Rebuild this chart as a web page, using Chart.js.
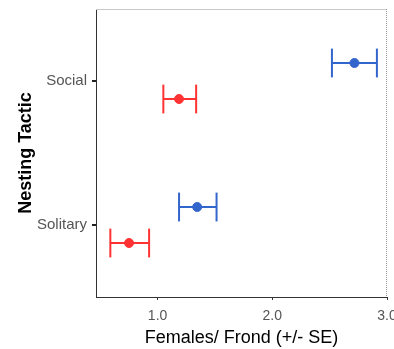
<!DOCTYPE html>
<html>
<head>
    <title>Nesting Tactic</title>
    <script src="https://cdn.jsdelivr.net/npm/chart.js"></script>
    <style>
        html, body { margin: 0; padding: 0; background: #fff; }
        .chart-container { width: 394px; height: 349px; }
    </style>
</head>
<body>
    <div class="chart-container">
        <canvas id="tacticChart"></canvas>
    </div>

    <script>
    // categories, bottom to top
    const tactics = ['Solitary', 'Social'];
    const xTicks = [1, 2, 3];

    // blue group
    const blueMean = [1.345, 2.716];
    const blueLow  = [1.187, 2.520];
    const blueHigh = [1.514, 2.912];

    // red group
    const redMean = [0.751, 1.187];
    const redLow  = [0.588, 1.050];
    const redHigh = [0.926, 1.336];

    const BLUE = '#3366cc';
    const RED = '#ff3333';
    const dodge = 0.125;
    const capHalf = 0.1;

    function errorSets(mean, low, high, offset, color) {
        const sets = [];
        const pts = [];
        tactics.forEach((t, i) => {
            const y = i + 1 + offset;
            pts.push({ x: mean[i], y: y });
            const line = { showLine: true, borderColor: color, borderWidth: 2, pointRadius: 0, order: 2 };
            sets.push(Object.assign({ data: [{ x: low[i], y: y }, { x: high[i], y: y }] }, line));
            sets.push(Object.assign({ data: [{ x: low[i], y: y - capHalf }, { x: low[i], y: y + capHalf }] }, line));
            sets.push(Object.assign({ data: [{ x: high[i], y: y - capHalf }, { x: high[i], y: y + capHalf }] }, line));
        });
        sets.push({
            data: pts, pointRadius: 4.5, pointBackgroundColor: color,
            pointBorderColor: color, pointBorderWidth: 1, order: 1
        });
        return sets;
    }

    const panelBorder = {
        id: 'panelBorder',
        afterDraw(chart) {
            const a = chart.chartArea, ctx = chart.ctx;
            ctx.save();
            ctx.lineWidth = 1;
            ctx.strokeStyle = '#c8c8c8';
            ctx.beginPath();
            ctx.moveTo(a.left, a.top + 0.5);
            ctx.lineTo(a.right, a.top + 0.5);
            ctx.stroke();
            ctx.strokeStyle = '#999';
            ctx.setLineDash([1, 1]);
            ctx.beginPath();
            ctx.moveTo(a.right - 0.5, a.top);
            ctx.lineTo(a.right - 0.5, a.bottom);
            ctx.stroke();
            ctx.restore();
        }
    };

    const ctx = document.getElementById('tacticChart').getContext('2d');
    new Chart(ctx, {
        type: 'scatter',
        data: {
            datasets: [
                ...errorSets(blueMean, blueLow, blueHigh, dodge, BLUE),
                ...errorSets(redMean, redLow, redHigh, -dodge, RED)
            ]
        },
        options: {
            responsive: true,
            maintainAspectRatio: false,
            animation: false,
            layout: { padding: { top: 9, right: 7, left: 0, bottom: 0 } },
            plugins: { legend: { display: false }, tooltip: { enabled: false } },
            scales: {
                x: {
                    type: 'linear',
                    min: 0.463,
                    max: 3.0,
                    afterBuildTicks: s => { s.ticks = xTicks.map(v => ({ value: v })); },
                    afterFit: s => { s.paddingRight = 0; s.paddingLeft = 0; s.height = 52; },
                    grid: { display: true, drawOnChartArea: false, drawTicks: true, tickLength: 3, tickColor: '#333' },
                    border: { display: true, color: '#333', width: 1 },
                    ticks: {
                        padding: 8,
                        color: '#555',
                        font: { family: 'Liberation Sans, Arial, sans-serif', size: 14 },
                        callback: v => v.toFixed(1)
                    },
                    title: {
                        display: true,
                        text: 'Females/ Frond (+/- SE)',
                        color: '#000',
                        font: { family: 'Liberation Sans, Arial, sans-serif', size: 18 },
                        padding: { top: 0, bottom: 0 }
                    }
                },
                y: {
                    type: 'linear',
                    min: 0.5,
                    max: 2.5,
                    afterBuildTicks: s => { s.ticks = tactics.map((t, i) => ({ value: i + 1 })); },
                    afterFit: s => { s.width = 96; s.paddingTop = 0; s.paddingBottom = 0; },
                    grid: { display: true, drawOnChartArea: false, drawTicks: true, tickLength: 4, tickColor: '#222', lineWidth: 2 },
                    border: { display: true, color: '#333', width: 1 },
                    ticks: {
                        padding: 5,
                        color: '#555',
                        font: { family: 'Liberation Sans, Arial, sans-serif', size: 15 },
                        callback: v => tactics[Math.round(v) - 1]
                    },
                    title: {
                        display: true,
                        text: 'Nesting Tactic',
                        color: '#000',
                        font: { family: 'Liberation Sans, Arial, sans-serif', size: 18, weight: 'bold' },
                        padding: { top: 15, bottom: 4 }
                    }
                }
            }
        },
        plugins: [panelBorder]
    });
    </script>
</body>
</html>
